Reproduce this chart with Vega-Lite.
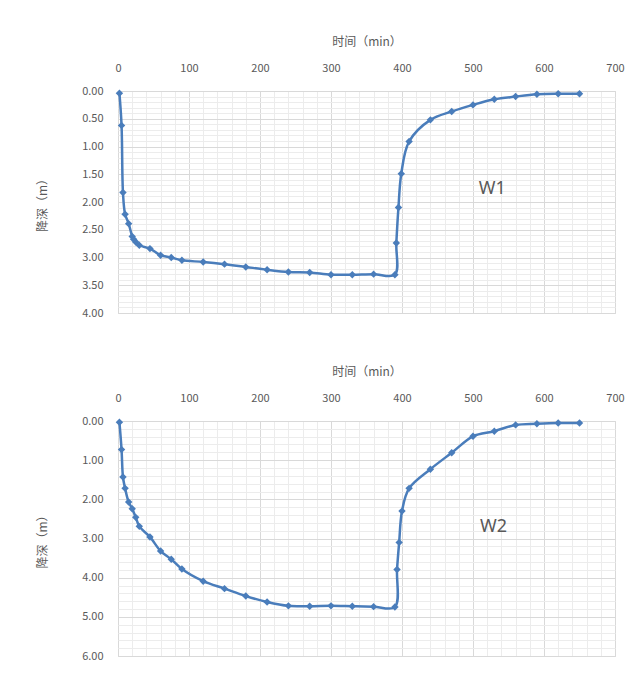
{
  "$schema": "https://vega.github.io/schema/vega-lite/v6.json",
  "background": "white",
  "padding": {"left": 36, "top": 35, "right": 0, "bottom": 0},
  "autosize": {"type": "pad"},
  "spacing": 46,
  "config": {
    "font": "Noto Sans CJK SC",
    "view": {"stroke": "#d9d9d9", "strokeWidth": 1},
    "axis": {
      "labelColor": "#595959",
      "titleColor": "#595959",
      "labelFontSize": 11,
      "titleFontSize": 12,
      "titleFontWeight": "normal",
      "labelFont": "Noto Sans CJK SC",
      "titleFont": "Noto Sans CJK SC",
      "ticks": false,
      "domain": false,
      "labelOverlap": false,
      "labelFlush": false,
      "tickCount": 200,
      "gridWidth": 1
    }
  },
  "datasets": {
    "w1": [
      {"t": 2, "s": 0.04}, {"t": 5, "s": 0.62}, {"t": 7, "s": 1.83}, {"t": 10, "s": 2.22},
      {"t": 15, "s": 2.39}, {"t": 20, "s": 2.62}, {"t": 22, "s": 2.67}, {"t": 25, "s": 2.72},
      {"t": 30, "s": 2.78}, {"t": 45, "s": 2.84}, {"t": 60, "s": 2.96}, {"t": 75, "s": 3.0},
      {"t": 90, "s": 3.05}, {"t": 120, "s": 3.08}, {"t": 150, "s": 3.12}, {"t": 180, "s": 3.17},
      {"t": 210, "s": 3.22}, {"t": 240, "s": 3.26}, {"t": 270, "s": 3.27}, {"t": 300, "s": 3.31},
      {"t": 330, "s": 3.31}, {"t": 360, "s": 3.3}, {"t": 390, "s": 3.31}, {"t": 392, "s": 2.74},
      {"t": 395, "s": 2.1}, {"t": 399, "s": 1.49}, {"t": 410, "s": 0.91}, {"t": 440, "s": 0.52},
      {"t": 470, "s": 0.37}, {"t": 500, "s": 0.25}, {"t": 530, "s": 0.15}, {"t": 560, "s": 0.1},
      {"t": 590, "s": 0.06}, {"t": 620, "s": 0.05}, {"t": 650, "s": 0.05}
    ],
    "w2": [
      {"t": 2, "s": 0.03}, {"t": 5, "s": 0.73}, {"t": 7, "s": 1.43}, {"t": 10, "s": 1.72},
      {"t": 15, "s": 2.07}, {"t": 20, "s": 2.24}, {"t": 25, "s": 2.46}, {"t": 30, "s": 2.69},
      {"t": 45, "s": 2.96}, {"t": 60, "s": 3.32}, {"t": 75, "s": 3.53}, {"t": 90, "s": 3.78},
      {"t": 120, "s": 4.09}, {"t": 150, "s": 4.28}, {"t": 180, "s": 4.47}, {"t": 210, "s": 4.62},
      {"t": 240, "s": 4.72}, {"t": 270, "s": 4.73}, {"t": 300, "s": 4.72}, {"t": 330, "s": 4.73},
      {"t": 360, "s": 4.74}, {"t": 390, "s": 4.75}, {"t": 393, "s": 3.79}, {"t": 396, "s": 3.1},
      {"t": 400, "s": 2.3}, {"t": 410, "s": 1.72}, {"t": 440, "s": 1.23}, {"t": 470, "s": 0.81},
      {"t": 500, "s": 0.39}, {"t": 530, "s": 0.26}, {"t": 560, "s": 0.1}, {"t": 590, "s": 0.07},
      {"t": 620, "s": 0.05}, {"t": 650, "s": 0.05}
    ],
    "lab1": [{"t": 527, "s": 1.77, "label": "W1"}],
    "lab2": [{"t": 529, "s": 2.7, "label": "W2"}]
  },
  "vconcat": [
    {
      "width": 497,
      "height": 222,
      "layer": [
        {
          "data": {"name": "w1"},
          "mark": {"type": "line", "interpolate": "catmull-rom", "color": "#4a7dbb", "strokeWidth": 2.5,
                   "point": {"shape": "diamond", "size": 55, "filled": true, "color": "#4a7dbb"}},
          "encoding": {
            "x": {"field": "t", "type": "quantitative",
                  "scale": {"domain": [0, 700], "nice": false, "zero": false},
                  "axis": {"orient": "top", "title": "时间（min）", "titlePadding": 14, "labelPadding": 17.5, "tickCount": 200,
                           "values": [0,20,40,60,80,100,120,140,160,180,200,220,240,260,280,300,320,340,360,380,400,420,440,460,480,500,520,540,560,580,600,620,640,660,680,700],
                           "labelExpr": "datum.value % 100 === 0 ? datum.label : ''",
                           "gridColor": {"condition": {"test": "datum.value % 100 === 0", "value": "#d9d9d9"}, "value": "#ececec"}}},
            "y": {"field": "s", "type": "quantitative",
                  "scale": {"domain": [0, 4], "reverse": true, "nice": false},
                  "axis": {"title": "降深（m）", "titlePadding": 32, "labelPadding": 15, "tickCount": 200,
                           "values": [0,0.1,0.2,0.3,0.4,0.5,0.6,0.7,0.8,0.9,1,1.1,1.2,1.3,1.4,1.5,1.6,1.7,1.8,1.9,2,2.1,2.2,2.3,2.4,2.5,2.6,2.7,2.8,2.9,3,3.1,3.2,3.3,3.4,3.5,3.6,3.7,3.8,3.9,4],
                           "labelExpr": "round(datum.value*10) % 5 === 0 ? format(datum.value, '.2f') : ''",
                           "gridColor": {"condition": {"test": "round(datum.value*10) % 5 === 0", "value": "#d9d9d9"}, "value": "#ececec"}}}
          }
        },
        {
          "data": {"name": "lab1"},
          "mark": {"type": "text", "fontSize": 18, "color": "#595959", "font": "Noto Sans"},
          "encoding": {
            "x": {"field": "t", "type": "quantitative"},
            "y": {"field": "s", "type": "quantitative"},
            "text": {"field": "label"}
          }
        }
      ]
    },
    {
      "width": 497,
      "height": 235,
      "layer": [
        {
          "data": {"name": "w2"},
          "mark": {"type": "line", "interpolate": "catmull-rom", "color": "#4a7dbb", "strokeWidth": 2.5,
                   "point": {"shape": "diamond", "size": 55, "filled": true, "color": "#4a7dbb"}},
          "encoding": {
            "x": {"field": "t", "type": "quantitative",
                  "scale": {"domain": [0, 700], "nice": false, "zero": false},
                  "axis": {"orient": "top", "title": "时间（min）", "titlePadding": 14, "labelPadding": 17.5, "tickCount": 200,
                           "values": [0,20,40,60,80,100,120,140,160,180,200,220,240,260,280,300,320,340,360,380,400,420,440,460,480,500,520,540,560,580,600,620,640,660,680,700],
                           "labelExpr": "datum.value % 100 === 0 ? datum.label : ''",
                           "gridColor": {"condition": {"test": "datum.value % 100 === 0", "value": "#d9d9d9"}, "value": "#ececec"}}},
            "y": {"field": "s", "type": "quantitative",
                  "scale": {"domain": [0, 6], "reverse": true, "nice": false},
                  "axis": {"title": "降深（m）", "titlePadding": 32, "labelPadding": 15, "tickCount": 200,
                           "values": [0,0.2,0.4,0.6,0.8,1,1.2,1.4,1.6,1.8,2,2.2,2.4,2.6,2.8,3,3.2,3.4,3.6,3.8,4,4.2,4.4,4.6,4.8,5,5.2,5.4,5.6,5.8,6],
                           "labelExpr": "round(datum.value*10) % 10 === 0 ? format(datum.value, '.2f') : ''",
                           "gridColor": {"condition": {"test": "round(datum.value*10) % 10 === 0", "value": "#d9d9d9"}, "value": "#ececec"}}}
          }
        },
        {
          "data": {"name": "lab2"},
          "mark": {"type": "text", "fontSize": 18, "color": "#595959", "font": "Noto Sans"},
          "encoding": {
            "x": {"field": "t", "type": "quantitative"},
            "y": {"field": "s", "type": "quantitative"},
            "text": {"field": "label"}
          }
        }
      ]
    }
  ]
}
